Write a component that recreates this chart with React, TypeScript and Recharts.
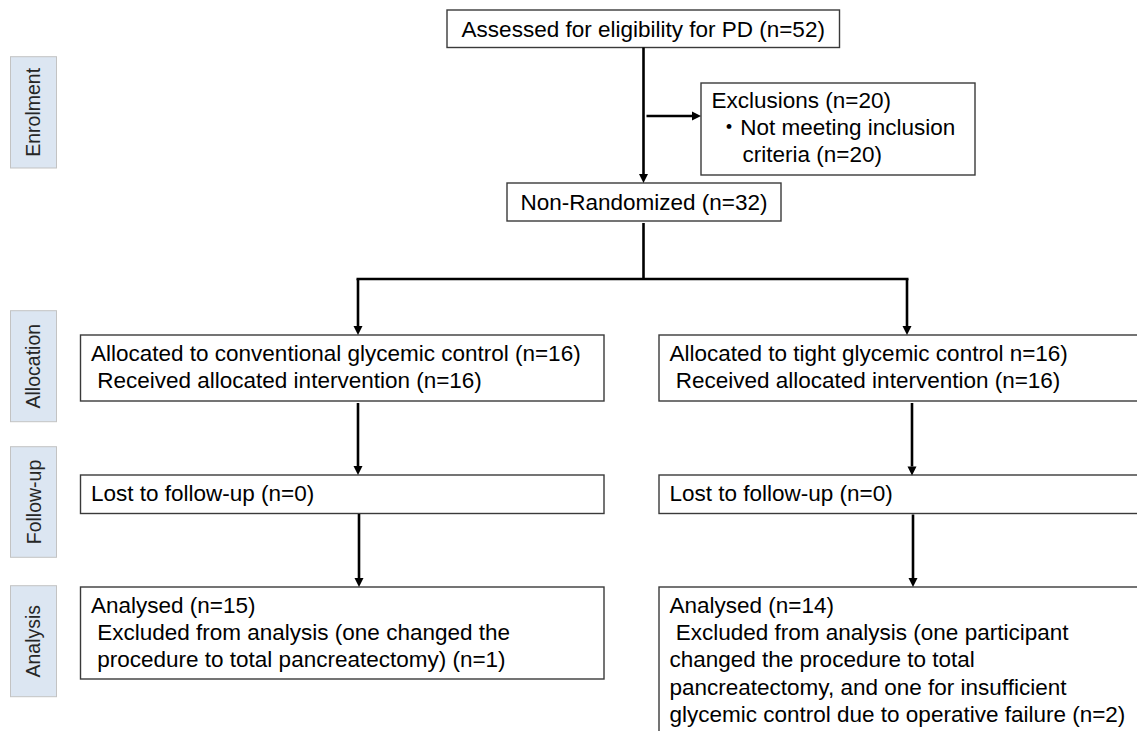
import React from "react";
import { ComposedChart, XAxis, YAxis, ReferenceArea, ReferenceLine } from "recharts";

const W = 1137;
const H = 731;
const FONT = "'Liberation Sans', Arial, 'Noto Sans CJK JP', sans-serif";

// stage labels down the left side
const phases = ["Enrolment", "Allocation", "Follow-up", "Analysis"];

const assessedText = ["Assessed for eligibility for PD (n=52)"];
const exclusionText = ["Exclusions (n=20)", " \u30FBNot meeting inclusion", "criteria (n=20)"];
const pooledText = ["Non-Randomized (n=32)"];

const conventionalText = [
    ["Allocated to conventional glycemic control (n=16)", " Received allocated intervention (n=16)"],
    ["Lost to follow-up (n=0)"],
    ["Analysed (n=15)", " Excluded from analysis (one changed the", " procedure to total pancreatectomy) (n=1)"],
];
const tightText = [
    ["Allocated to tight glycemic control n=16)", " Received allocated intervention (n=16)"],
    ["Lost to follow-up (n=0)"],
    [
        "Analysed (n=14)",
        " Excluded from analysis (one participant",
        "changed the procedure to total",
        "pancreatectomy, and one for insufficient",
        "glycemic control due to operative failure (n=2)",
    ],
];

// layout (chart units = pixels)
const phaseRows = [[56.7, 168], [310.7, 421.7], [446.7, 557.3], [585.7, 696.7]];
const columns = [[80.5, 604], [659, 1160]];
const rows = [[335, 401], [475, 513.5], [587, 679]];
const exclusionIndent = [0, 0, 31];

const arrows = [
    { from: [643.5, 47.5], to: [643.5, 183], head: true },
    { from: [646.5, 116], to: [701, 116], head: true },
    { from: [643.5, 223], to: [643.5, 279], head: false },
    { from: [356.5, 279], to: [908.5, 279], head: false },
    { from: [358, 279], to: [358, 335], head: true },
    { from: [907, 279], to: [907, 335], head: true },
    { from: [358, 403], to: [358, 475], head: true },
    { from: [912, 403], to: [912, 475.5], head: true },
    { from: [359, 514], to: [359, 587], head: true },
    { from: [913, 514.5], to: [913, 587], head: true },
];

const LINE_H = 27.2;

function makeBox(lines: string[], center: boolean, firstBase = 26, indents: number[] = []) {
    return (p: any) => {
        const { x, y, width, height } = p;
        return (
            <g>
                <rect x={x} y={y} width={width} height={height} fill="#fff" stroke="#3a3a3a" strokeWidth={1.4} />
                {lines.map((t, i) => (
                    <text
                        key={i}
                        x={center ? x + width / 2 : x + 10.5 + (indents[i] || 0)}
                        y={y + firstBase + i * LINE_H}
                        textAnchor={center ? "middle" : "start"}
                        fontFamily={FONT}
                        fontSize={22.5}
                        fill="#000"
                        xmlSpace="preserve"
                        style={{ whiteSpace: "pre" }}
                    >
                        {t}
                    </text>
                ))}
            </g>
        );
    };
}

function makePhase(label: string) {
    return (p: any) => {
        const { x, y, width, height } = p;
        const cx = x + width / 2;
        const cy = y + height / 2;
        return (
            <g>
                <rect x={x} y={y} width={width} height={height} fill="#dce6f2" stroke="#c3c3c3" strokeWidth={1} />
                <text
                    x={cx}
                    y={cy}
                    transform={`rotate(-90 ${cx} ${cy})`}
                    textAnchor="middle"
                    dominantBaseline="central"
                    fontFamily={FONT}
                    fontSize={19.5}
                    fill="#262626"
                >
                    {label}
                </text>
            </g>
        );
    };
}

function makeArrow(head: boolean) {
    return (p: any) => {
        const { x1, y1, x2, y2 } = p;
        const len = Math.hypot(x2 - x1, y2 - y1) || 1;
        const ux = (x2 - x1) / len;
        const uy = (y2 - y1) / len;
        const hl = 9;
        const hw = 4.5;
        const bx = x2 - ux * hl;
        const by = y2 - uy * hl;
        return (
            <g>
                <line x1={x1} y1={y1} x2={head ? bx : x2} y2={head ? by : y2} stroke="#000" strokeWidth={2.6} />
                {head && (
                    <polygon
                        points={`${x2},${y2} ${bx - uy * hw},${by + ux * hw} ${bx + uy * hw},${by - ux * hw}`}
                        fill="#000"
                    />
                )}
            </g>
        );
    };
}

export default function App() {
    return (
        <div style={{ position: "absolute", left: 0, top: 0, background: "#fff" }}>
            <ComposedChart width={W} height={H} data={[]} margin={{ top: 0, right: 0, bottom: 0, left: 0 }}>
                <XAxis type="number" dataKey="x" domain={[0, W]} allowDataOverflow hide />
                <YAxis type="number" dataKey="y" domain={[0, H]} allowDataOverflow reversed hide />

                {phases.map((ph, i) => (
                    <ReferenceArea
                        key={ph}
                        x1={10.5}
                        x2={56.5}
                        y1={phaseRows[i][0]}
                        y2={phaseRows[i][1]}
                        ifOverflow="visible"
                        shape={makePhase(ph)}
                    />
                ))}

                <ReferenceArea x1={447} x2={839.5} y1={10} y2={47.5} ifOverflow="visible" shape={makeBox(assessedText, true, 26.5)} />
                <ReferenceArea x1={701} x2={975} y1={83} y2={175} ifOverflow="visible" shape={makeBox(exclusionText, false, 25, exclusionIndent)} />
                <ReferenceArea x1={507} x2={781} y1={183} y2={221} ifOverflow="visible" shape={makeBox(pooledText, true, 26.5)} />

                {[conventionalText, tightText].map((col, c) =>
                    col.map((lines, r) => (
                        <ReferenceArea
                            key={`${c}-${r}`}
                            x1={columns[c][0]}
                            x2={columns[c][1]}
                            y1={rows[r][0]}
                            y2={c === 1 && r === 2 ? 760 : rows[r][1]}
                            ifOverflow="visible"
                            shape={makeBox(lines, false)}
                        />
                    ))
                )}

                {arrows.map((a, i) => (
                    <ReferenceLine
                        key={i}
                        segment={[{ x: a.from[0], y: a.from[1] }, { x: a.to[0], y: a.to[1] }]}
                        ifOverflow="visible"
                        shape={makeArrow(a.head)}
                    />
                ))}
            </ComposedChart>
        </div>
    );
}
